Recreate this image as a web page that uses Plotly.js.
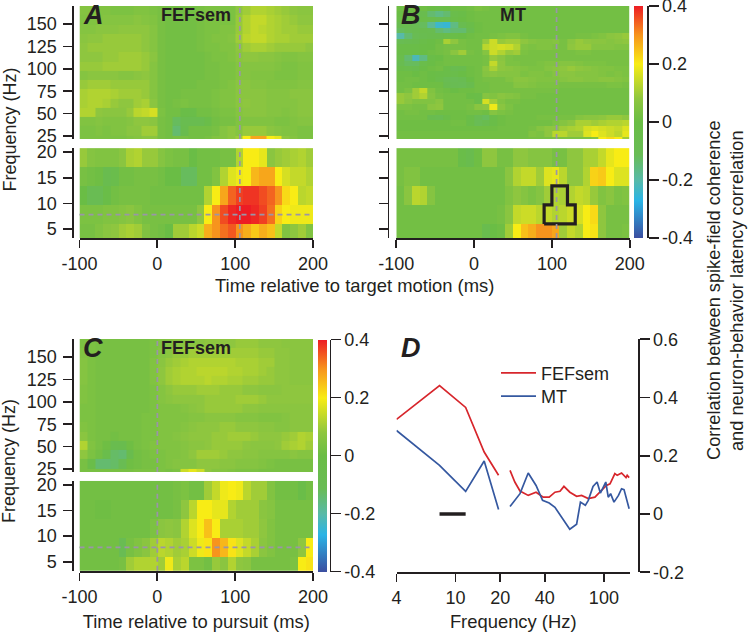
<!DOCTYPE html>
<html>
<head>
<meta charset="utf-8">
<script src="https://cdn.plot.ly/plotly-3.0.1.min.js"></script>
<style>html,body{margin:0;padding:0;background:#fff}</style>
</head>
<body>
<div id="grafico" style="width:750px;height:632px"></div>
<script>
// time bins (ms) and frequency rows (Hz), rows listed top of the panel first
const timeMs = [-95,-85,-75,-65,-55,-45,-35,-25,-15,-5,5,15,25,35,45,55,65,75,85,95,105,115,125,135,145,155,165,175,185,195];
const lowFreqs = [18.9,15.2,11.5,7.8,4.1];
const highFreqs = [165,154.6,144.3,134,123.7,113.3,103,92.7,82.3,72,61.7,51.3,41,30.7,20];
const mtHighFreqs = [167.1,161,154.9,148.8,142.8,136.7,130.6,124.5,118.4,112.3,106.2,100.2,94.1,88,81.9,75.8,69.7,63.6,57.6,51.5,45.4,39.3,33.2,27.1,20];

// correlation x 100
const fefTargetHigh = [
  [6,6,5,5,4,4,4,5,5,4,3,2,2,2,2,3,4,4,4,4,8,10,12,12,11,10,9,8,7,7],
  [5,5,5,6,6,6,6,7,6,5,3,2,2,2,2,3,4,4,4,4,9,12,14,14,12,11,10,9,8,8],
  [6,6,7,7,7,8,8,8,8,6,3,2,2,2,2,3,4,4,5,5,9,12,14,13,12,11,10,10,9,9],
  [7,8,8,9,9,9,9,9,8,6,3,2,2,2,2,3,4,5,5,6,10,13,14,14,12,11,11,10,10,10],
  [8,9,9,9,9,9,9,9,8,6,3,2,2,2,2,3,4,4,5,5,8,10,11,11,10,9,9,9,9,8],
  [8,8,8,9,9,10,10,10,9,7,3,2,2,2,2,2,3,4,4,5,7,8,8,7,7,6,5,5,6,6],
  [9,9,9,10,10,10,10,10,9,6,3,2,2,2,2,2,3,3,4,4,6,6,6,6,6,5,4,4,5,5],
  [6,7,7,7,7,6,6,7,8,6,3,2,2,2,2,2,3,3,4,4,6,6,5,5,5,4,4,4,5,5],
  [9,10,10,10,9,9,9,9,9,6,3,2,2,2,2,3,3,3,4,5,7,7,6,6,5,5,5,5,6,6],
  [11,12,12,12,11,10,10,10,9,6,3,2,2,3,3,3,3,4,5,5,7,7,7,7,6,6,6,7,7,7],
  [11,12,12,11,9,8,8,10,11,7,3,2,3,4,3,3,3,4,5,5,7,8,7,7,6,6,6,6,7,7],
  [12,12,8,7,7,7,9,13,14,16,4,2,2,-2,-3,2,2,3,4,4,6,7,7,7,6,6,5,6,7,7],
  [5,5,6,5,5,5,6,8,8,7,3,2,-12,-8,-8,-8,-3,2,3,3,5,5,5,5,5,4,4,5,6,6],
  [4,4,5,4,5,5,7,7,10,10,3,2,-14,-6,2,2,2,3,6,8,6,9,9,9,7,6,5,5,4,4],
  [4,4,4,4,4,4,5,6,7,7,3,2,3,3,2,2,3,5,6,8,10,20,28,28,20,18,8,6,4,4]
];
const fefTargetLow = [
  [9,6,5,5,5,7,11,12,9,9,6,4,3,3,-1,2,2,2,3,3,12,20,20,18,7,9,10,11,12,10],
  [3,2,1,-7,-5,2,2,3,3,3,2,0,0,-12,-12,2,2,5,12,17,19,20,26,28,28,20,16,14,14,12],
  [0,-10,-10,-2,2,3,3,3,3,2,2,2,2,2,2,2,12,20,28,34,37,38,38,36,34,30,22,20,13,14],
  [4,4,4,5,5,6,7,5,3,3,3,3,3,3,3,8,20,30,36,39,40,40,39,37,33,23,20,19,19,19],
  [3,3,5,7,8,10,11,10,5,3,2,0,10,10,13,15,27,30,33,35,30,27,24,27,25,14,5,8,10,5]
];
const mtTargetHigh = [
  [1,1,1,1,0,-2,0,1,1,2,4,3,2,2,2,2,2,2,2,2,2,2,2,2,2,2,2,2,2,2],
  [0,0,-1,-6,-14,-16,-14,-4,-2,1,2,2,2,2,2,2,2,2,2,2,2,2,2,2,2,2,2,2,2,2],
  [-3,-2,-3,-3,-4,-8,-8,-2,0,1,2,2,2,2,2,2,2,2,2,2,2,2,2,2,2,2,2,2,2,2],
  [-8,-8,-10,-12,-18,-24,-25,-16,-8,-3,1,2,2,2,2,2,2,2,2,2,2,2,2,2,2,2,2,2,2,2],
  [-12,-10,-8,-6,-8,-14,-16,-14,-14,-6,1,2,2,2,2,2,2,2,2,2,2,2,2,2,2,2,2,2,2,2],
  [-20,-14,-10,-8,-6,-6,-4,-2,0,1,2,2,3,4,5,5,3,2,2,2,2,2,2,3,3,4,5,7,8,9],
  [-10,-8,-6,-3,-1,1,11,8,3,2,2,9,15,9,10,10,8,6,5,5,6,3,7,9,8,7,7,6,7,8],
  [-2,-2,-2,-1,0,2,3,3,3,2,2,13,15,16,15,12,5,4,5,5,4,3,8,9,9,6,6,6,5,5],
  [-2,-2,-2,0,1,2,3,7,10,3,2,6,15,12,9,10,4,3,3,3,3,3,3,4,4,3,3,3,3,3],
  [-5,-14,-22,-16,-2,0,2,2,2,2,2,3,9,7,4,3,3,3,3,3,3,3,3,3,3,3,3,3,3,3],
  [-8,-12,-12,-4,-1,1,2,2,2,2,2,3,14,8,4,4,3,3,4,5,5,6,6,5,4,4,4,3,3,3],
  [-3,-5,-6,-1,1,2,-2,-8,-6,1,2,7,11,8,7,6,5,4,4,6,7,8,9,8,7,6,5,5,4,4],
  [1,1,0,1,-1,-2,-3,-4,-1,1,2,6,7,6,6,6,4,5,5,4,6,7,7,6,6,6,5,4,5,4],
  [1,2,2,1,0,-4,-10,-11,-9,-1,2,3,3,3,5,7,7,6,5,5,5,6,7,7,6,6,7,7,6,5],
  [2,2,1,1,1,1,-8,-10,-11,-6,2,2,3,3,3,6,6,5,4,4,4,3,3,3,3,3,3,4,4,3],
  [2,4,10,14,5,2,1,-1,1,1,2,2,3,3,3,3,3,3,3,3,3,2,2,2,2,2,2,2,2,2],
  [9,8,10,12,6,3,2,2,2,-1,-2,6,5,7,6,5,3,3,2,2,2,2,2,2,2,2,2,2,2,2],
  [9,7,5,5,5,7,2,2,2,2,-2,16,10,5,3,3,2,2,2,2,2,2,2,2,2,2,2,2,2,2],
  [4,4,3,3,7,8,2,2,2,3,7,8,19,7,4,2,2,2,2,2,2,2,2,2,2,2,2,2,2,2],
  [2,3,3,2,2,1,1,1,1,2,2,1,6,4,3,2,2,2,2,2,2,2,2,2,2,2,2,2,2,2],
  [2,2,2,2,-7,-9,-3,1,1,-2,-10,-12,-2,1,2,2,2,2,3,3,3,3,3,6,7,7,8,9,9,8],
  [1,1,1,1,1,1,1,2,2,-3,-11,-7,-2,1,2,2,2,2,2,2,4,6,8,11,11,10,11,12,12,13],
  [1,1,1,1,1,1,1,1,1,1,1,1,1,2,2,2,2,3,6,8,8,10,11,12,16,17,16,15,14,17],
  [2,2,2,2,2,2,2,2,2,2,2,2,2,2,2,2,2,5,4,8,13,13,10,10,17,20,17,15,13,18],
  [2,2,2,2,2,2,2,2,2,2,2,2,2,2,2,2,2,3,3,3,4,4,4,4,4,6,20,22,20,10]
];
const mtTargetLow = [
  [3,3,3,3,3,3,3,3,-3,-6,1,8,8,3,3,8,8,6,6,6,3,3,8,8,11,11,14,18,20,20],
  [3,5,5,2,2,2,2,2,2,2,2,2,2,2,7,12,14,14,10,17,18,13,8,8,12,23,24,20,17,17],
  [2,7,13,12,6,2,2,2,2,2,2,2,2,2,5,8,6,4,6,10,12,11,12,14,13,9,5,7,4,5],
  [2,2,2,2,2,2,2,2,2,2,2,2,2,3,7,14,15,15,13,14,12,13,15,16,20,22,8,3,3,3],
  [2,2,2,2,2,2,2,2,2,2,2,-6,0,1,10,20,25,27,30,30,28,10,14,12,20,21,8,3,3,4]
];
const fefPursuitHigh = [
  [4,4,3,3,3,3,3,3,3,4,5,6,7,7,7,7,8,8,8,8,9,9,9,8,8,8,7,7,7,7],
  [5,4,3,3,3,3,3,3,3,4,6,7,9,9,10,10,10,10,10,10,10,10,10,9,9,8,8,7,7,7],
  [6,4,3,3,3,3,3,3,3,5,7,9,10,11,12,12,12,12,12,12,11,11,11,10,10,8,8,7,7,7],
  [6,4,3,3,3,3,3,3,3,5,8,10,11,12,12,13,13,13,13,12,12,11,11,10,9,8,8,7,7,7],
  [6,4,3,3,3,3,3,3,3,5,8,10,11,12,12,12,13,12,12,11,11,10,10,9,9,8,8,7,7,7],
  [5,4,3,3,3,3,3,3,3,4,6,8,9,9,9,10,10,10,9,9,9,8,8,7,7,7,8,8,8,8],
  [5,4,3,3,3,3,3,3,3,4,6,7,8,8,8,8,9,9,9,9,10,10,10,9,8,8,8,8,8,8],
  [4,4,3,3,3,3,3,3,3,4,5,5,5,6,7,8,9,9,9,9,9,8,8,7,7,7,7,7,7,7],
  [4,4,3,3,3,3,3,3,4,4,5,5,5,5,6,6,7,7,7,7,6,6,6,5,5,5,6,7,7,7],
  [5,4,3,3,3,3,3,3,4,4,5,5,5,6,7,8,8,8,9,9,8,8,8,7,7,6,6,7,7,7],
  [7,4,3,3,2,3,3,3,4,4,5,5,6,7,8,8,8,9,9,10,10,10,9,8,8,8,9,10,12,11],
  [12,5,3,1,-7,-6,1,3,4,5,5,5,5,6,7,7,8,9,9,9,9,8,7,7,7,8,10,11,12,10],
  [8,4,2,-5,-13,-14,-6,2,3,4,4,5,5,6,8,10,10,10,9,8,8,7,7,6,6,6,6,7,6,6],
  [3,-3,-14,-14,-13,-10,1,2,3,3,4,5,6,6,6,8,8,8,7,7,6,6,6,5,4,3,3,3,3,3],
  [3,3,3,3,3,3,3,4,4,4,4,3,4,15,18,15,8,6,6,5,4,4,4,3,3,3,3,3,3,3]
];
const fefPursuitLow = [
  [2,2,2,2,2,2,2,2,2,2,2,2,3,4,2,2,10,14,19,20,19,13,10,10,5,2,2,2,-2,2],
  [2,2,1,1,2,2,2,2,2,2,2,2,3,8,13,20,20,18,18,12,10,10,10,7,6,3,3,3,3,3],
  [2,2,2,2,2,2,2,2,2,4,7,8,7,12,17,20,25,20,11,11,11,10,10,8,5,3,3,3,3,3],
  [2,2,2,2,2,-10,3,5,7,10,13,12,10,11,15,19,21,30,26,21,17,14,11,7,5,3,3,3,8,20],
  [2,2,2,2,2,3,10,12,12,12,10,19,11,13,4,4,2,9,7,12,8,7,3,3,3,3,3,4,20,21]
];

// panel D, frequency (Hz) vs correlation; null leaves the gap round 20 Hz
const fefFreq = [4,7.8,11.7,15.6,19.5,null,23.3,25.1,27.2,30.9,34.9,39,42.8,46.8,50.6,53.8,59,65.5,70.8,78.5,87,94,104,110,118.6,123,131.6,141,143.6,148];
const fefCorr = [0.325,0.441,0.366,0.213,0.133,null,0.15,0.11,0.079,0.064,0.075,0.058,0.058,0.075,0.078,0.095,0.075,0.061,0.064,0.053,0.058,0.075,0.098,0.104,0.139,0.133,0.141,0.125,0.133,0.125];
const mtFreq = [4,7.8,11.7,15.6,19.5,null,23.3,27.2,30.9,34.9,38.6,42.8,46.8,52,58.9,65.5,69.5,75,78.5,84.5,90,94.7,103,107,111,117,125.4,131.6,136.7,148];
const mtCorr = [0.287,0.167,0.078,0.182,0.016,null,0.026,0.07,0.141,0.098,0.047,0.038,0.023,-0.01,-0.052,-0.035,0.041,0.03,0.047,0.095,0.11,0.072,0.11,0.058,0.07,0.041,0.064,0.087,0.084,0.018];
const sigBarFreq = [7.8,11.7];
const sigBarCorr = [0,0];

// outlined time-frequency window in panel B
const windowMs = [90,90,100,100,120,120,130,130,90];
const windowHz = [6,9.7,9.7,13.4,13.4,9.7,9.7,6,6];

const latencyMs = 106;
const pursuitOnsetMs = 0;
const peakThetaHz = 7.8;

const timeTicks = [-100,0,100,200];
const highTicks = [25,50,75,100,125,150];
const lowTicks = [5,10,15,20];
const freqLogTicks = [4,10,20,40,100];
const scaleTicks = [-0.4,-0.2,0,0.2,0.4];
const scaleLabels = ['-0.4','-0.2','0','0.2','0.4'];
const corrTicks = [-0.2,0,0.2,0.4,0.6];
const corrLabels = ['-0.2','0','0.2','0.4','0.6'];

const INK = '#231f20';
const FONT = '"Liberation Sans", Arial, sans-serif';
const W = 750, H = 632;
const escala = [
  [0,'#3b4ea0'],[0.16,'#2ab4e6'],[0.25,'#58baa8'],[0.36,'#69bc55'],[0.5,'#6abd45'],
  [0.6,'#8ec63f'],[0.75,'#f8ec15'],[0.875,'#f7941d'],[1,'#ed1c24']
];

// pixel helpers, the page has no margins so paper = window
const fx = p => p / W;
const fy = p => 1 - p / H;
const domX = (a, b) => [fx(a), fx(b)];
const domY = (top, bottom) => [fy(bottom), fy(top)];
const aCorr = m => m.map(r => r.map(v => v / 100));

function mapa(z, y, n, ca) {
  return { type: 'heatmap', x: timeMs, y, z: aCorr(z), xaxis: 'x' + n, yaxis: 'y' + n, coloraxis: ca, hoverinfo: 'skip' };
}

function ejeTiempo(a, b, anchor, labels) {
  return {
    domain: domX(a, b), range: [-100, 200], anchor,
    tickmode: 'array', tickvals: timeTicks, ticktext: timeTicks.map(String),
    ticks: labels ? 'outside' : '', ticklen: 8, tickwidth: 1.7, tickcolor: INK,
    showline: labels, linewidth: 2.2, linecolor: INK, showgrid: false, zeroline: false,
    showticklabels: labels, visible: labels
  };
}

function ejeFrec(top, bottom, range, vals, xPos, labels) {
  return {
    domain: domY(top, bottom), range, anchor: 'free', position: fx(xPos), side: 'left',
    tickmode: 'array', tickvals: vals, ticktext: vals.map(String),
    ticks: 'outside', ticklen: 8.5, tickwidth: 1.7, tickcolor: INK, ticklabelstandoff: 3,
    showline: true, linewidth: 1.7, linecolor: INK, showgrid: false, zeroline: false,
    showticklabels: labels
  };
}

function ejeEscala(top, bottom, xPos) {
  return {
    domain: domY(top, bottom), range: [-0.4, 0.4], anchor: 'free', position: fx(xPos), side: 'right',
    tickmode: 'array', tickvals: scaleTicks, ticktext: scaleLabels, ticklabeloverflow: 'allow',
    ticks: 'outside', ticklen: 9.5, tickwidth: 1.7, tickcolor: INK,
    showline: true, linewidth: 1.7, linecolor: INK, showgrid: false, zeroline: false
  };
}

function barra(top, bottom, xPos) {
  return {
    x: fx(xPos), xanchor: 'left', y: fy(top), yanchor: 'top', len: (bottom - top) / H, lenmode: 'fraction',
    thickness: 9, thicknessmode: 'pixels', xpad: 0, ypad: 0, outlinewidth: 0, borderwidth: 0,
    ticks: '', showticklabels: false, tickvals: []
  };
}

function rotulo(text, x, y, size, extra) {
  return Object.assign({ text, x: fx(x), y: fy(y), xref: 'paper', yref: 'paper', showarrow: false,
    xanchor: 'center', yanchor: 'middle', font: { family: FONT, size, color: INK } }, extra || {});
}

function guia(extra) {
  return Object.assign({ type: 'line', line: { color: '#9a95a8', width: 1.7, dash: '5px,4px' }, layer: 'above' }, extra);
}
function guiaV(x, n) { return guia({ xref: 'x' + n, yref: 'y' + n + ' domain', x0: x, x1: x, y0: 0, y1: 1 }); }
function guiaH(y, n) { return guia({ xref: 'x' + n + ' domain', yref: 'y' + n, x0: 0, x1: 1, y0: y, y1: y }); }

const trazas = [
  mapa(fefTargetHigh, highFreqs, '', 'coloraxis'),
  mapa(fefTargetLow, lowFreqs, '2', 'coloraxis'),
  mapa(mtTargetHigh, mtHighFreqs, '3', 'coloraxis'),
  mapa(mtTargetLow, lowFreqs, '4', 'coloraxis'),
  mapa(fefPursuitHigh, highFreqs, '5', 'coloraxis2'),
  mapa(fefPursuitLow, lowFreqs, '6', 'coloraxis2'),
  { x: windowMs, y: windowHz, xaxis: 'x4', yaxis: 'y4', mode: 'lines', line: { color: INK, width: 3.2 }, showlegend: false, hoverinfo: 'skip' },
  { x: fefFreq, y: fefCorr, xaxis: 'x7', yaxis: 'y7', mode: 'lines', name: 'FEFsem', legend: 'legend', line: { color: '#d7262c', width: 1.7 } },
  { x: mtFreq, y: mtCorr, xaxis: 'x7', yaxis: 'y7', mode: 'lines', name: 'MT', legend: 'legend2', line: { color: '#3558a0', width: 1.7 } },
  { x: sigBarFreq, y: sigBarCorr, xaxis: 'x7', yaxis: 'y7', mode: 'lines', line: { color: INK, width: 3.4 }, showlegend: false },
  // empty traces, they only carry the colour scale axes
  { x: [null], y: [null], xaxis: 'x8', yaxis: 'y8', mode: 'lines', showlegend: false, hoverinfo: 'skip' },
  { x: [null], y: [null], xaxis: 'x9', yaxis: 'y9', mode: 'lines', showlegend: false, hoverinfo: 'skip' }
];

const highRange = [21.65, 170.1];
const lowRange = [3.25, 20.78];

function leyenda(x, top) {
  return { x: fx(x), y: fy(top), xanchor: 'left', yanchor: 'top', bgcolor: 'rgba(0,0,0,0)', itemwidth: 35, font: { size: 18 } };
}

const layout = {
  width: W, height: H, autosize: false,
  margin: { l: 0, r: 0, t: 0, b: 0, pad: 0 },
  paper_bgcolor: '#fff', plot_bgcolor: '#fff',
  font: { family: FONT, size: 18, color: INK },
  showlegend: true,
  legend: leyenda(496, 354.7),
  legend2: leyenda(496, 378),
  coloraxis: { colorscale: escala, cmin: -0.4, cmax: 0.4, colorbar: barra(6, 238, 634) },
  coloraxis2: { colorscale: escala, cmin: -0.4, cmax: 0.4, colorbar: barra(339.5, 571.5, 318) },

  xaxis: ejeTiempo(79.5, 313, 'y', false),
  yaxis: ejeFrec(6, 139, highRange, highTicks, 71.8, true),
  xaxis2: ejeTiempo(79.5, 313, 'y2', true),
  yaxis2: ejeFrec(148, 238, lowRange, lowTicks, 71.8, true),

  xaxis3: ejeTiempo(396.3, 629.7, 'y3', false),
  yaxis3: ejeFrec(6, 139, highRange, highTicks, 387.5, false),
  xaxis4: ejeTiempo(396.3, 629.7, 'y4', true),
  yaxis4: ejeFrec(148, 238, lowRange, lowTicks, 387.5, false),

  xaxis5: ejeTiempo(79.5, 313, 'y5', false),
  yaxis5: ejeFrec(339, 472, highRange, highTicks, 71.8, true),
  xaxis6: Object.assign(ejeTiempo(79.5, 313, 'y6', true), { title: { text: 'Time relative to pursuit (ms)', font: { size: 18.4 }, standoff: 14 } }),
  yaxis6: ejeFrec(480.7, 570.7, lowRange, lowTicks, 71.8, true),

  xaxis7: {
    domain: domX(396.5, 630), type: 'log', range: [Math.log10(4), Math.log10(150)], anchor: 'y7',
    tickmode: 'array', tickvals: freqLogTicks, ticktext: freqLogTicks.map(String),
    ticks: 'outside', ticklen: 8, tickwidth: 1.7, tickcolor: INK,
    showline: true, linewidth: 1.7, linecolor: INK, showgrid: false, zeroline: false,
    title: { text: 'Frequency (Hz)', font: { size: 18.4 }, standoff: 14 }
  },
  yaxis7: {
    domain: domY(339.3, 572.3), range: [-0.2, 0.6], anchor: 'free', position: fx(638.3), side: 'right',
    tickmode: 'array', tickvals: corrTicks, ticktext: corrLabels,
    ticks: 'outside', ticklen: 9.5, tickwidth: 1.7, tickcolor: INK,
    showline: true, linewidth: 1.7, linecolor: INK, showgrid: false, zeroline: false
  },

  xaxis8: { domain: domX(634, 643), range: [0, 1], anchor: 'y8', visible: false },
  yaxis8: ejeEscala(6, 238, 647.3),
  xaxis9: { domain: domX(318, 327), range: [0, 1], anchor: 'y9', visible: false },
  yaxis9: ejeEscala(339.5, 571.5, 329.5),

  shapes: [
    guiaV(latencyMs, ''), guiaV(latencyMs, '2'), guiaV(latencyMs, '3'), guiaV(latencyMs, '4'),
    guiaV(pursuitOnsetMs, '5'), guiaV(pursuitOnsetMs, '6'),
    guiaH(peakThetaHz, '2'), guiaH(peakThetaHz, '6')
  ],

  annotations: [
    rotulo('<b><i>A</i></b>', 93, 15, 27),
    rotulo('<b><i>B</i></b>', 410.7, 15, 27),
    rotulo('<b><i>C</i></b>', 93, 348, 27),
    rotulo('<b><i>D</i></b>', 410.7, 348, 27),
    rotulo('<b>FEFsem</b>', 196, 15, 18),
    rotulo('<b>MT</b>', 513, 15, 18),
    rotulo('<b>FEFsem</b>', 196, 348, 18),
    rotulo('Time relative to target motion (ms)', 354.5, 285, 18.4),
    rotulo('Frequency (Hz)', 9, 129.5, 18, { textangle: -90 }),
    rotulo('Frequency (Hz)', 9, 461, 18, { textangle: -90 }),
    rotulo('Correlation between spike-field coherence', 714, 290, 18.2, { textangle: -90 }),
    rotulo('and neuron-behavior latency correlation', 737, 291, 18.2, { textangle: -90 })
  ]
};

Plotly.newPlot('grafico', trazas, layout, { displayModeBar: false, staticPlot: true });
</script>
</body>
</html>
